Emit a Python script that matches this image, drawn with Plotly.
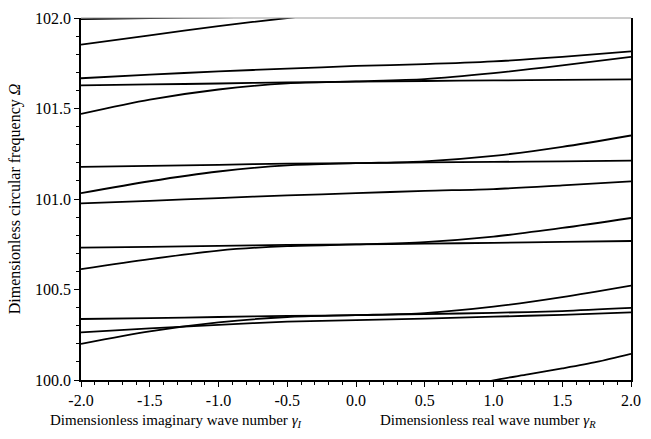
import plotly.graph_objects as go

# Wave-number grid: negative side is the imaginary wave number, positive side the real one
gamma = [-2.0, -1.5, -1.0, -0.5, 0.0, 0.5, 1.0, 1.5, 2.0]

# Dimensionless circular frequency of each branch along the grid
mode_top = [101.994, 101.999, 102.004, 102.008, 102.012, 102.018, 102.028, 102.048, 102.08]
mode_a = [101.853, 101.904, 101.955, 102.0, 102.04, 102.07, 102.1, 102.15, 102.22]
mode_b = [101.667, 101.687, 101.705, 101.720, 101.735, 101.745, 101.760, 101.785, 101.816]
mode_c = [101.628, 101.633, 101.638, 101.644, 101.648, 101.652, 101.655, 101.658, 101.661]
mode_d = [101.470, 101.549, 101.605, 101.639, 101.650, 101.662, 101.695, 101.738, 101.785]
mode_e = [101.178, 101.183, 101.189, 101.195, 101.198, 101.202, 101.205, 101.208, 101.212]
mode_f = [101.032, 101.098, 101.152, 101.186, 101.198, 101.208, 101.238, 101.288, 101.351]
mode_g = [100.976, 100.990, 101.005, 101.020, 101.032, 101.045, 101.055, 101.075, 101.097]
mode_h = [100.731, 100.736, 100.741, 100.746, 100.749, 100.753, 100.758, 100.763, 100.768]
mode_i = [100.613, 100.668, 100.715, 100.740, 100.749, 100.762, 100.792, 100.840, 100.895]
mode_j = [100.337, 100.342, 100.348, 100.354, 100.358, 100.364, 100.371, 100.381, 100.398]
mode_k = [100.263, 100.285, 100.305, 100.322, 100.331, 100.339, 100.350, 100.360, 100.374]
mode_l = [100.200, 100.269, 100.318, 100.348, 100.358, 100.370, 100.405, 100.458, 100.522]

# Branch that only exists on the real side
gamma_m = [0.75, 1.0, 1.25, 1.5, 1.75, 2.0]
mode_m = [99.95, 99.998, 100.031, 100.064, 100.100, 100.145]

x_tick_vals = [-2.0, -1.5, -1.0, -0.5, 0.0, 0.5, 1.0, 1.5, 2.0]
x_tick_text = ["-2.0", "-1.5", "-1.0", "-0.5", "0.0", "0.5", "1.0", "1.5", "2.0"]
y_tick_vals = [100.0, 100.5, 101.0, 101.5, 102.0]
y_tick_text = ["100.0", "100.5", "101.0", "101.5", "102.0"]

FONT = "Times New Roman, Times, Liberation Serif, Tinos, serif"
TICK_FS = 16
TITLE_FS = 15

fig = go.Figure()
for branch in [mode_top, mode_a, mode_b, mode_c, mode_d, mode_e, mode_f,
               mode_g, mode_h, mode_i, mode_j, mode_k, mode_l]:
    fig.add_trace(go.Scatter(x=gamma, y=branch, mode="lines",
                             line=dict(color="black", width=1.8, shape="spline", smoothing=0.8),
                             showlegend=False, hoverinfo="skip"))
fig.add_trace(go.Scatter(x=gamma_m, y=mode_m, mode="lines",
                         line=dict(color="black", width=1.8, shape="spline", smoothing=0.8),
                         showlegend=False, hoverinfo="skip"))

fig.update_layout(
    width=651, height=439,
    margin=dict(l=81, r=10, t=13, b=59),
    paper_bgcolor="white", plot_bgcolor="white",
    font=dict(family=FONT, size=TITLE_FS, color="black"),
    xaxis=dict(
        range=[-2, 2], tickvals=x_tick_vals, ticktext=x_tick_text,
        showgrid=False, zeroline=False,
        showline=True, linecolor="black", linewidth=1.5,
        ticks="outside", ticklen=5, tickwidth=1, tickcolor="black",
        minor=dict(dtick=0.1, ticks="outside", ticklen=3, tickcolor="black", showgrid=False),
        tickfont=dict(family=FONT, size=TICK_FS),
    ),
    yaxis=dict(
        range=[100, 102], tickvals=y_tick_vals, ticktext=y_tick_text,
        showgrid=False, zeroline=False,
        showline=True, linecolor="black", linewidth=1.5, mirror=True,
        ticks="outside", ticklen=5, tickwidth=1, tickcolor="black",
        minor=dict(dtick=0.1, ticks="outside", ticklen=3, tickcolor="black", showgrid=False),
        tickfont=dict(family=FONT, size=TICK_FS),
        title=dict(text="Dimensionless circular frequency <i>Ω</i>",
                   font=dict(family=FONT, size=16), standoff=10),
    ),
    shapes=[dict(type="line", xref="paper", yref="paper", x0=0, x1=1, y0=1, y1=1,
                 line=dict(color="#9a9a9a", width=1))],
    annotations=[
        dict(text="Dimensionless imaginary wave number <i>γ</i><sub><i>I</i></sub>",
             xref="x", yref="paper", x=-0.38, y=0, xanchor="right", yanchor="top",
             yshift=-30, showarrow=False, font=dict(family=FONT, size=TITLE_FS)),
        dict(text="Dimensionless real wave number <i>γ</i><sub><i>R</i></sub>",
             xref="x", yref="paper", x=0.16, y=0, xanchor="left", yanchor="top",
             yshift=-30, showarrow=False, font=dict(family=FONT, size=TITLE_FS)),
    ],
)

fig.write_html("out.html")
